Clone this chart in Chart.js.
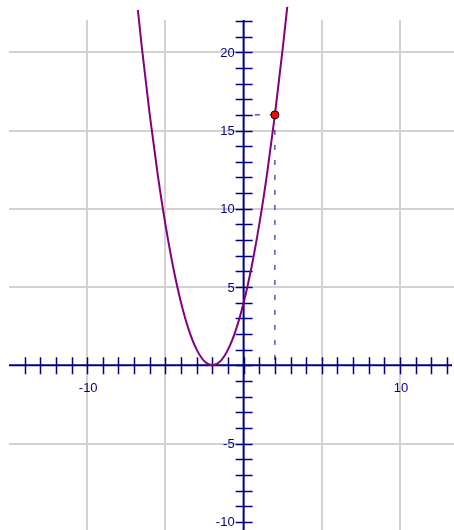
<!DOCTYPE html>
<html>
<head>
<meta charset="utf-8">
<script src="https://cdn.jsdelivr.net/npm/chart.js@4/dist/chart.umd.min.js"></script>
<style>
    html, body { margin: 0; padding: 0; background: #fff; }
    #wrap { width: 454px; height: 530px; }
</style>
</head>
<body>
<div id="wrap"><canvas id="graph" width="454" height="530"></canvas></div>
<script>
// Parabola
const curveX = [-6.76, -6.5, -6, -5.5, -5, -4.5, -4, -3.5, -3, -2.5, -2, -1.5, -1, -0.5, 0, 0.5, 1, 1.5, 2, 2.5, 2.79];
const curveY = [22.7, 20.25, 16, 12.25, 9, 6.25, 4, 2.25, 1, 0.25, 0, 0.25, 1, 2.25, 4, 6.25, 9, 12.25, 16, 20.25, 22.9];

// Marked point
const markX = [2];
const markY = [16];

// Axis ticks and labels
const xTickFirst = -14;
const xTickLast = 13;
const yTickFirst = -10;
const yTickLast = 22;
const xLabelValues = [-10, 10];
const xLabelTexts = ['-10', '10'];
const yLabelValues = [20, 15, 10, 5, -5, -10];
const yLabelTexts = ['20', '15', '10', '5', '-5', '-10'];

const navy = '#000080';
const purple = '#800080';

// Crossing axes with ticks on both sides, drawn through the chart scales
const crossAxes = {
    id: 'crossAxes',
    beforeDatasetsDraw(chart) {
        const { ctx, chartArea, scales: { x, y } } = chart;
        const x0 = x.getPixelForValue(0);
        const y0 = y.getPixelForValue(0);
        ctx.save();

        // dashed guides from the point
        const px = x.getPixelForValue(markX[0]);
        const py = y.getPixelForValue(markY[0]);
        ctx.strokeStyle = navy;
        ctx.lineWidth = 1;
        ctx.setLineDash([5, 10]);
        ctx.beginPath();
        ctx.moveTo(px, py);
        ctx.lineTo(px, y0);
        ctx.moveTo(px, py);
        ctx.lineTo(x0, py);
        ctx.stroke();
        ctx.setLineDash([]);

        // axis lines
        ctx.strokeStyle = navy;
        ctx.lineWidth = 2;
        ctx.beginPath();
        ctx.moveTo(chartArea.left, y0);
        ctx.lineTo(chartArea.right - 2, y0);
        ctx.moveTo(x0, y.getPixelForValue(yTickLast) - 1);
        ctx.lineTo(x0, chartArea.bottom);
        ctx.stroke();

        // ticks
        ctx.lineWidth = 1.5;
        ctx.beginPath();
        for (let v = xTickFirst; v <= xTickLast; v++) {
            const p = Math.round(x.getPixelForValue(v)) + 0.5;
            ctx.moveTo(p, y0 - 8);
            ctx.lineTo(p, y0 + 9);
        }
        for (let v = yTickFirst; v <= yTickLast; v++) {
            const p = Math.round(y.getPixelForValue(v)) + 0.5;
            ctx.moveTo(x0 - 8, p);
            ctx.lineTo(x0 + 9, p);
        }
        ctx.stroke();

        // labels
        ctx.fillStyle = navy;
        ctx.font = '13px "Liberation Sans", Arial, sans-serif';
        ctx.textAlign = 'center';
        ctx.textBaseline = 'top';
        xLabelValues.forEach((v, i) => {
            ctx.fillText(xLabelTexts[i], x.getPixelForValue(v) + 1, y0 + 17);
        });
        ctx.textAlign = 'right';
        ctx.textBaseline = 'middle';
        yLabelValues.forEach((v, i) => {
            ctx.fillText(yLabelTexts[i], x0 - 9, y.getPixelForValue(v) + 1);
        });
        ctx.restore();
    }
};

function gridColor(c) {
    const v = c.tick.value;
    const s = c.scale;
    if (v % 5 === 0 && v !== 0 && v > s.min && v < s.max) {
        return '#d2d2d2';
    }
    return 'rgba(0,0,0,0)';
}

const ctx = document.getElementById('graph').getContext('2d');
new Chart(ctx, {
    type: 'scatter',
    data: {
        datasets: [
            {
                label: 'point',
                data: markX.map((v, i) => ({ x: v, y: markY[i] })),
                backgroundColor: '#ff0000',
                borderColor: '#000000',
                borderWidth: 1,
                pointRadius: 4,
                order: 0
            },
            {
                label: 'curve',
                data: curveX.map((v, i) => ({ x: v, y: curveY[i] })),
                showLine: true,
                borderColor: purple,
                borderWidth: 2,
                pointRadius: 0,
                cubicInterpolationMode: 'monotone',
                clip: false,
                order: 1
            }
        ]
    },
    options: {
        responsive: false,
        animation: false,
        layout: { autoPadding: false, padding: { left: 9, top: 20, right: 0, bottom: 0 } },
        plugins: {
            legend: { display: false },
            tooltip: { enabled: false }
        },
        scales: {
            x: {
                type: 'linear',
                min: -15,
                max: 13.45,
                border: { display: false },
                grid: { color: gridColor, lineWidth: 2, drawTicks: false },
                ticks: { display: false, stepSize: 5 },
                afterFit: (s) => { s.height = 0; }
            },
            y: {
                type: 'linear',
                min: -10.52,
                max: 22.06,
                border: { display: false },
                grid: { color: gridColor, lineWidth: 2, drawTicks: false },
                ticks: { display: false, stepSize: 5 },
                afterFit: (s) => { s.width = 0; }
            }
        }
    },
    plugins: [crossAxes]
});
</script>
</body>
</html>
